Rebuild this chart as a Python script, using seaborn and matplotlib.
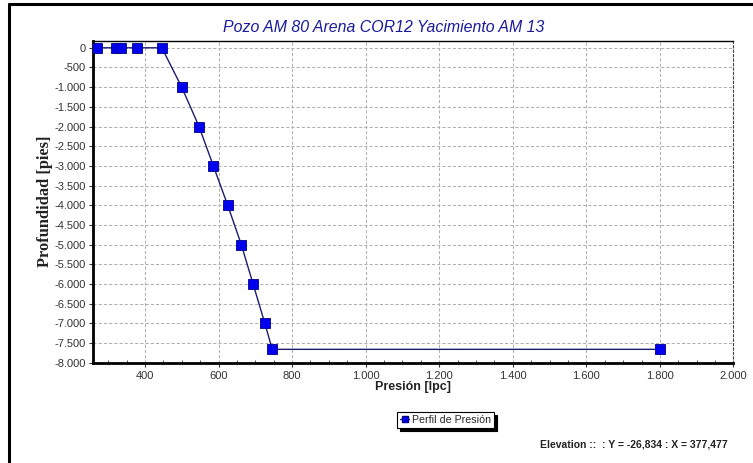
import matplotlib
matplotlib.use("Agg")
import matplotlib.pyplot as plt
import matplotlib.ticker as mticker
from matplotlib.lines import Line2D
import seaborn as sns
import pandas as pd

# ---- data ----
presion = [270, 321, 335, 378, 446, 500, 547, 586, 625, 662, 694, 726, 746, 1800]
profundidad = [0, 0, 0, 0, 0, -1000, -2000, -3000, -4000, -5000, -6000, -7000, -7660, -7660]
x_ticks = [400, 600, 800, 1000, 1200, 1400, 1600, 1800, 2000]
y_ticks = [0, -500, -1000, -1500, -2000, -2500, -3000, -3500, -4000, -4500,
           -5000, -5500, -6000, -6500, -7000, -7500, -8000]
title = "Pozo AM 80 Arena COR12 Yacimiento AM 13"
xlabel = "Presión [lpc]"
ylabel = "Profundidad [pies]"
series_name = "Perfil de Presión"
status_text = "Elevation ::  : Y = -26,834 : X = 377,477"

df = pd.DataFrame({"presion": presion, "profundidad": profundidad})

sns.set_theme(style="white")
plt.rcParams["font.family"] = ["Liberation Sans", "DejaVu Sans"]

fig = plt.figure(figsize=(7.53, 4.63), dpi=100)
fig.patch.set_facecolor("white")
ax = fig.add_axes([0.1231, 0.2166, 0.9741 - 0.1231, 0.9121 - 0.2166])

line_col = "#1c1c70"
mark_col = "#0000ee"

sns.lineplot(data=df, x="presion", y="profundidad", sort=False, ax=ax,
             color=line_col, linewidth=1.0, estimator=None, zorder=3)
sns.scatterplot(data=df, x="presion", y="profundidad", ax=ax, marker="s",
                s=42, color=mark_col, edgecolor="#00008a", linewidth=0.6,
                zorder=4)

ax.set_xlim(258, 2000)
ax.set_ylim(-8000, 180)
ax.set_xticks(x_ticks)
ax.set_yticks(y_ticks)
fmt = mticker.FuncFormatter(lambda v, p: f"{int(v):,}".replace(",", "."))
ax.xaxis.set_major_formatter(fmt)
ax.yaxis.set_major_formatter(fmt)
ax.xaxis.set_minor_locator(mticker.MultipleLocator(50))
ax.tick_params(axis="both", which="major", labelsize=8, colors="#333333",
               length=3, width=0.8, direction="out", bottom=True, left=True)
ax.tick_params(axis="x", which="minor", length=2, width=0.6, bottom=True,
               direction="in", color="#333333")
ax.tick_params(axis="x", which="major", pad=3)
ax.tick_params(axis="y", which="major", pad=2)

ax.grid(True, which="major", color="#b0b0b0", linestyle=(0, (3, 2)), linewidth=0.75)
ax.set_axisbelow(True)

for side in ["left", "bottom"]:
    ax.spines[side].set_color("black")
    ax.spines[side].set_linewidth(2.0)
ax.spines["top"].set_color("black")
ax.spines["top"].set_linewidth(1.0)
ax.spines["right"].set_color("#444444")
ax.spines["right"].set_linewidth(0.8)
ax.spines["right"].set_linestyle((0, (2, 2)))
ax.spines["bottom"].set_linestyle((0, (3, 1)))

ax.set_xlabel(xlabel, fontsize=9, fontweight="bold", color="#222222",
              family=["Liberation Sans"], labelpad=0)
ax.set_ylabel(ylabel, fontsize=11.8, fontweight="bold", color="#222222",
              family=["Liberation Serif"], labelpad=1)
fig.text(0.510, 0.941, title, ha="center", va="center", fontsize=11.4,
         style="italic", color="#1a1a9a")

handle = Line2D([0], [0], color=line_col, lw=1.0, marker="s", markersize=5,
                markerfacecolor=mark_col, markeredgecolor="#00008a")
leg = fig.legend([handle], [series_name], loc="center",
                 bbox_to_anchor=(0.592, 0.093), fontsize=7.7,
                 frameon=True, fancybox=False, shadow={"color": "black", "alpha": 1},
                 handlelength=0.8, handletextpad=0.3, borderpad=0.3,
                 borderaxespad=0)
leg.get_frame().set_edgecolor("black")
leg.get_frame().set_linewidth(0.8)

fig.text(0.967, 0.041, status_text, ha="right", va="center", fontsize=7.5,
         fontweight="bold", color="#222222", family=["Liberation Sans Narrow", "Liberation Sans"])

# outer frame (left and top)
fig.add_artist(Line2D([0.0125, 0.0125], [0.0, 0.991], transform=fig.transFigure,
                      color="black", lw=2.2))
fig.add_artist(Line2D([0.0125, 1.0], [0.991, 0.991], transform=fig.transFigure,
                      color="black", lw=2.2))

fig.savefig("out.png", dpi=100, facecolor="white")
